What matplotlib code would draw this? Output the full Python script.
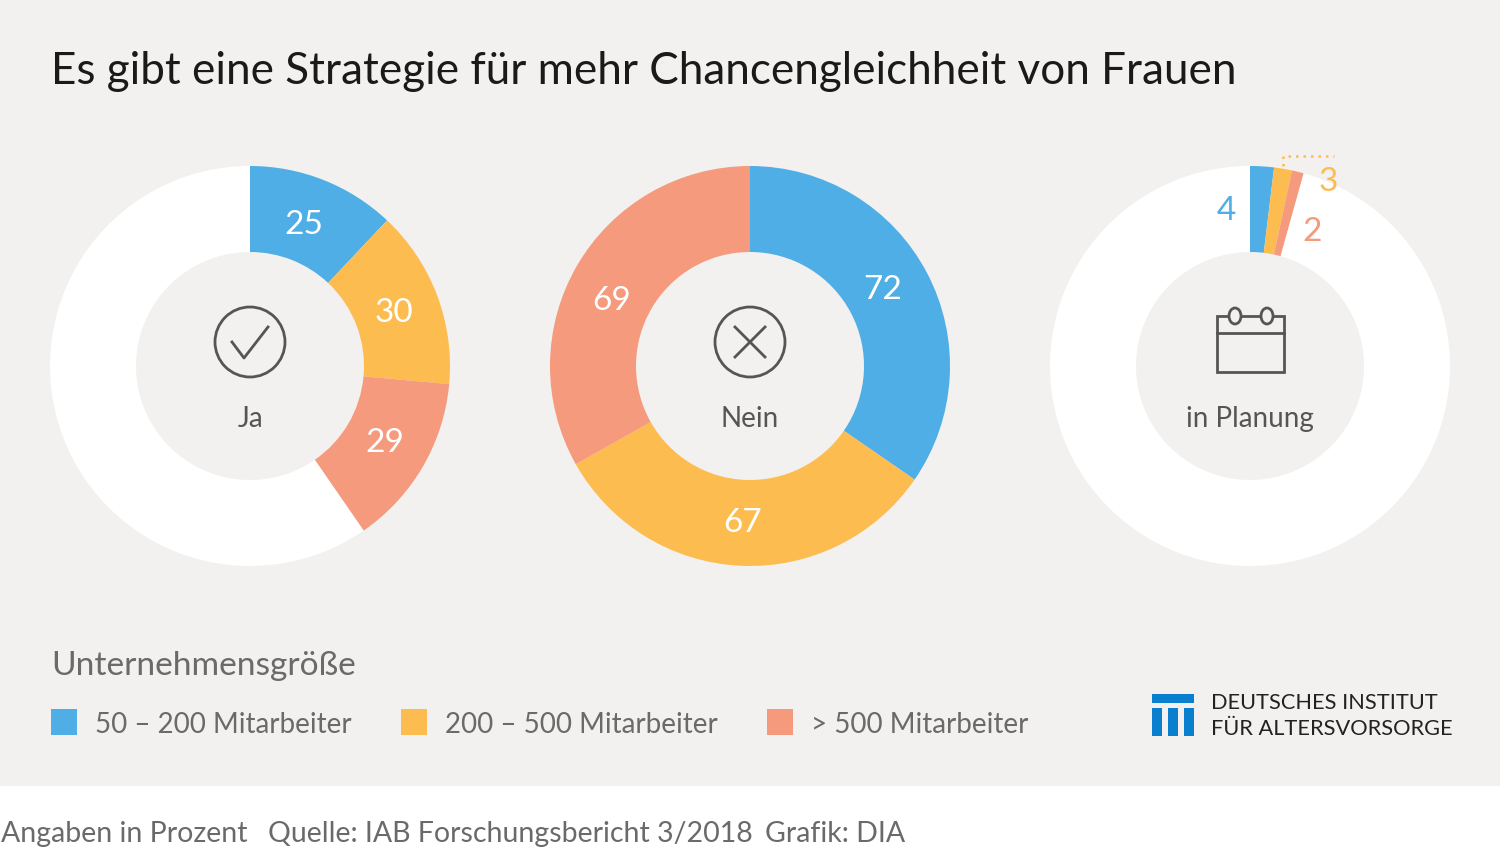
import numpy as np
import matplotlib
matplotlib.use('Agg')
import matplotlib.pyplot as plt
from matplotlib.patches import Rectangle, Circle, Ellipse

# Daten
groups = ['Ja', 'Nein', 'in Planung']
sizes = ['50 – 200 Mitarbeiter', '200 – 500 Mitarbeiter', '> 500 Mitarbeiter']
ja_values = [25, 30, 29]
nein_values = [72, 67, 69]
planung_values = [4, 3, 2]
full_circle = sum(nein_values)

# Farben
blue = '#4FAEE6'
yellow = '#FDBC50'
red = '#F59A7C'
bg = '#F2F1EF'
dark = '#555555'
legend_grey = '#6A6A6A'
logo_blue = '#0B7FCF'
colors = [blue, yellow, red]

plt.rcParams['font.family'] = ['Lato', 'DejaVu Sans']

W, H = 1500, 848
fig = plt.figure(figsize=(W / 100, H / 100), dpi=100, facecolor=bg)


# Ein Ring, Mittelpunkt in Pixeln
def draw_ring(cx, values, cy=366, radius=200):
    ax = fig.add_axes([(cx - radius) / W, 1 - (cy + radius) / H,
                       2 * radius / W, 2 * radius / H])
    rest = full_circle - sum(values)
    wedge_colors = colors + ['white']
    wedges, _ = ax.pie(values + [rest], colors=wedge_colors, startangle=90,
                       counterclock=False, radius=1, normalize=True,
                       wedgeprops={'width': 0.43, 'linewidth': 0})
    ax.set_xlim(-1, 1)
    ax.set_ylim(-1, 1)
    ax.axis('off')
    return wedges


ja_wedges = draw_ring(250, ja_values)
nein_wedges = draw_ring(750, nein_values)
planung_wedges = draw_ring(1250, planung_values)

# Ebene fuer Text und Symbole, Koordinaten = Pixel
top = fig.add_axes([0, 0, 1, 1], facecolor='none')
top.set_xlim(0, W)
top.set_ylim(H, 0)
top.axis('off')

# Fussleiste weiss
top.add_patch(Rectangle((0, 786), W, H - 786, color='white', lw=0))

top.text(51, 71, 'Es gibt eine Strategie für mehr Chancengleichheit von Frauen',
         fontsize=31.65, color='#1A1A1A', va='center', ha='left')


# Werte in die Ringe schreiben
def ring_labels(wedges, values, cx, shifts, cy=369, r=154):
    for w, val, shift in zip(wedges, values, shifts):
        ang = np.deg2rad((w.theta1 + w.theta2) / 2 + shift)
        top.text(cx + r * np.cos(ang), cy - r * np.sin(ang), str(val),
                 color='white', fontsize=24, ha='center', va='center')


ring_labels(ja_wedges, ja_values, 250, [1, 0.5, 1.5])
ring_labels(nein_wedges, nein_values, 750, [3, 0, 4])

# Werte neben dem kleinen Stueck
top.text(1226, 211, str(planung_values[0]), color=blue, fontsize=24, ha='center', va='center')
top.text(1328, 182, str(planung_values[1]), color=yellow, fontsize=24, ha='center', va='center')
top.text(1312, 232, str(planung_values[2]), color=red, fontsize=24, ha='center', va='center')
top.plot([1283, 1283, 1334], [166, 156, 156], color=yellow, lw=1.8, ls=(0, (1, 2)))

# Beschriftung in der Mitte
for cx, name in zip([250, 750, 1250], groups):
    top.text(cx, 419, name, color=dark, fontsize=20, ha='center', va='center')

# Symbole
icon_lw = 2.0
top.add_patch(Circle((250, 342), 35, fill=False, ec=dark, lw=icon_lw))
top.plot([232, 244, 268], [342, 358, 327], color=dark, lw=icon_lw)
top.add_patch(Circle((750, 342), 35, fill=False, ec=dark, lw=icon_lw))
top.plot([735, 765], [327, 357], color=dark, lw=icon_lw)
top.plot([735, 765], [357, 327], color=dark, lw=icon_lw)
top.add_patch(Rectangle((1217, 316), 67, 56, fill=False, ec=dark, lw=icon_lw))
top.plot([1217, 1284], [333, 333], color=dark, lw=icon_lw)
for ring_x in [1235, 1267]:
    top.add_patch(Ellipse((ring_x, 316), 12, 16, fc=bg, ec=dark, lw=icon_lw, zorder=3))

# Legende
top.text(51, 666, 'Unternehmensgröße', color=legend_grey, fontsize=24.1, ha='left', va='center')
for box_x, text_x, c, label in zip([51, 401, 767], [95, 445, 811], colors, sizes):
    top.add_patch(Rectangle((box_x, 709), 26, 26, color=c, lw=0))
    top.text(text_x, 725, label, color=legend_grey, fontsize=20, ha='left', va='center')

# Logo
top.add_patch(Rectangle((1152, 694), 42, 9, color=logo_blue, lw=0))
for bar_x in [1152, 1168, 1184]:
    top.add_patch(Rectangle((bar_x, 708), 10, 28, color=logo_blue, lw=0))
top.text(1211, 703, 'DEUTSCHES INSTITUT', color='#222222', fontsize=15.7, ha='left', va='center')
top.text(1211, 729, 'FÜR ALTERSVORSORGE', color='#222222', fontsize=15.7, ha='left', va='center')

# Fusszeile
for foot_x, foot_text in zip([1, 268, 765], ['Angaben in Prozent', 'Quelle: IAB Forschungsbericht 3/2018', 'Grafik: DIA']):
    top.text(foot_x, 834, foot_text, color=legend_grey, fontsize=20.5, ha='left', va='center')

fig.savefig('out.png', dpi=100, facecolor=bg)
